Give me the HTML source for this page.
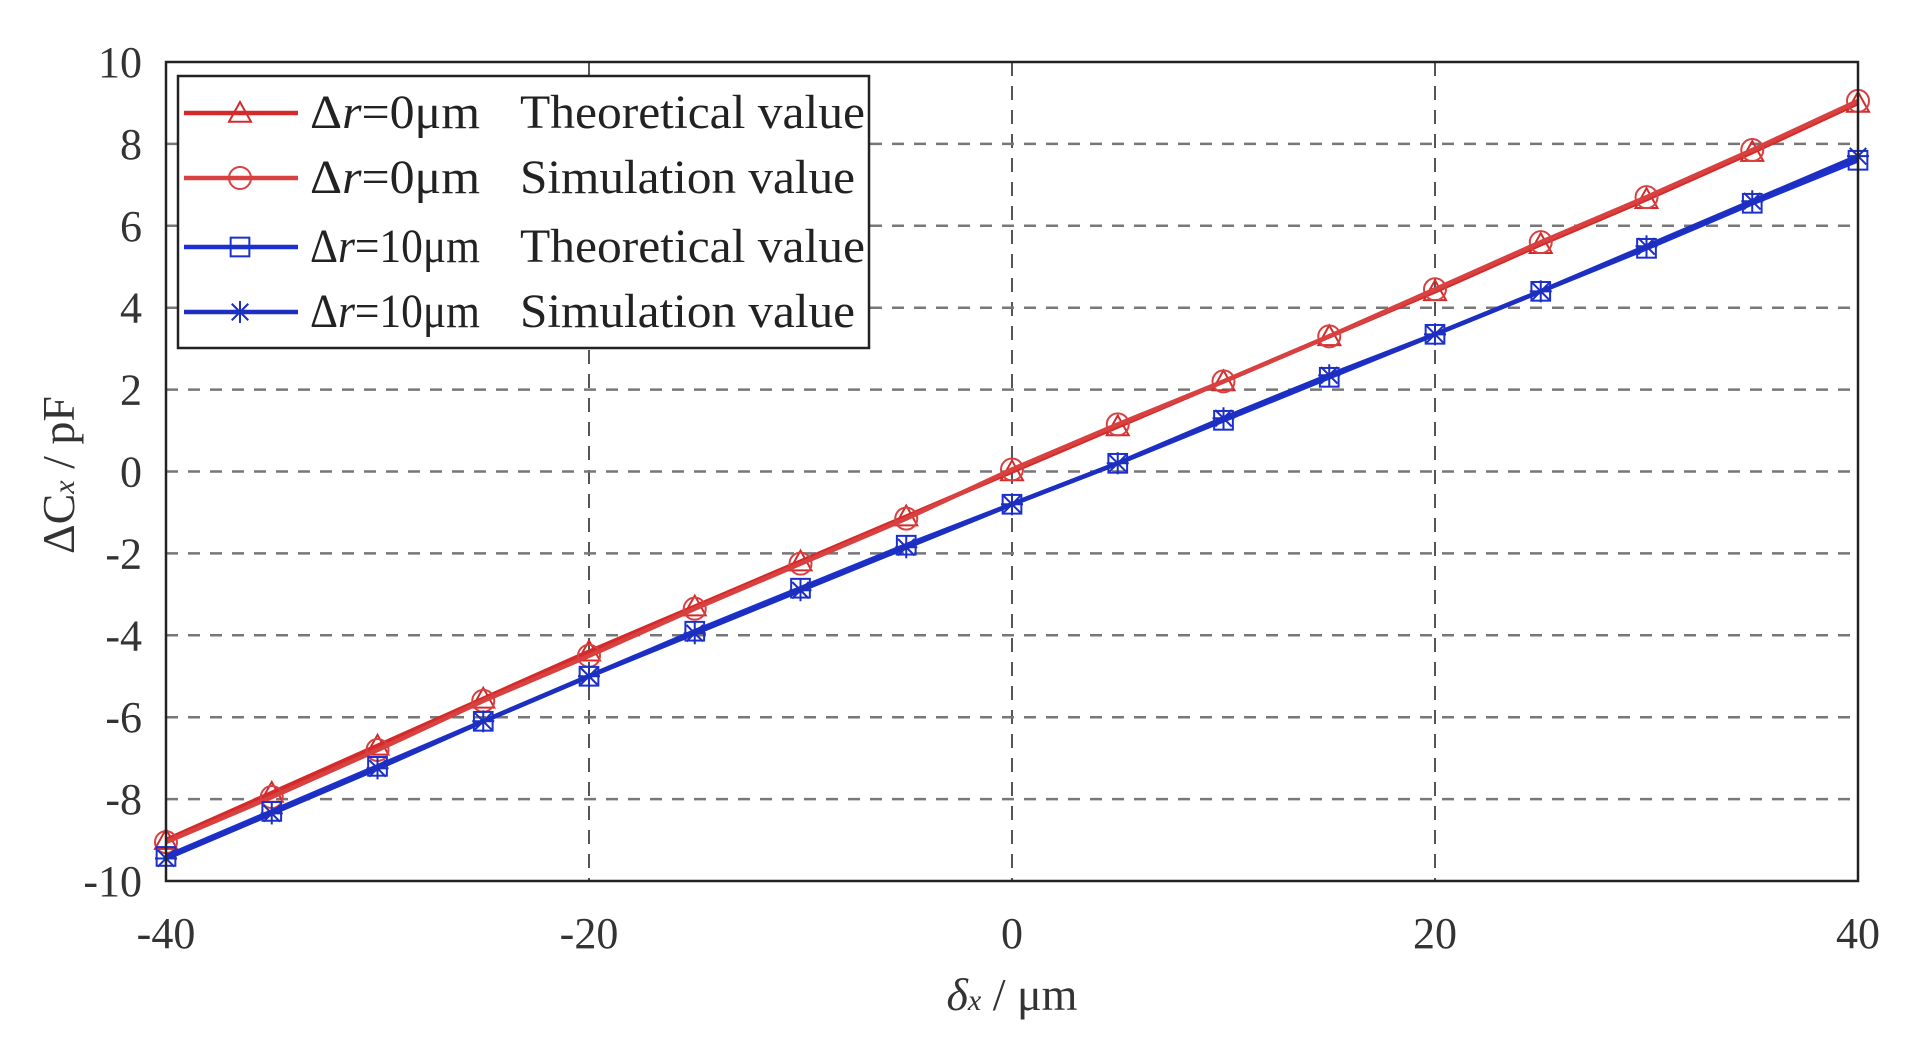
<!DOCTYPE html>
<html><head><meta charset="utf-8"><style>
html,body{margin:0;padding:0;background:#fff;}
svg{display:block;font-family:"Liberation Serif",serif;}
</style></head><body>
<svg id="chart" width="1912" height="1046" viewBox="0 0 1912 1046" xmlns="http://www.w3.org/2000/svg">
<g id="grid"></g>
<g id="series"></g>
<rect x="166" y="62" width="1692" height="819" fill="none" stroke="#222" stroke-width="2.5"/>
<g id="ticks"></g>
<text x="1012" y="1010" font-size="46" text-anchor="middle" fill="#333"><tspan font-style="italic">δ</tspan><tspan font-size="30" font-style="italic">x</tspan> / μm</text>
<text transform="translate(74,475) rotate(-90)" font-size="46" text-anchor="middle" fill="#333">ΔC<tspan font-size="30" font-style="italic">x</tspan> / pF</text>
<g id="legend">
<rect x="178" y="76" width="691" height="272" fill="#fff" stroke="#222" stroke-width="2.5"/>
</g>
</svg>
<script>
const xValues = [-40,-35,-30,-25,-20,-15,-10,-5,0,5,10,15,20,25,30,35,40];
const red0Theory = [-9,-7.85,-6.7,-5.55,-4.4,-3.3,-2.2,-1.1,0,1.1,2.2,3.3,4.4,5.55,6.65,7.8,9];
const red0Sim = [-9.05,-7.95,-6.8,-5.6,-4.5,-3.35,-2.25,-1.15,0.05,1.15,2.2,3.3,4.45,5.6,6.7,7.85,9.05];
const blue10Theory = [-9.4,-8.3,-7.2,-6.1,-5.0,-3.9,-2.85,-1.8,-0.8,0.2,1.25,2.3,3.35,4.4,5.45,6.55,7.6];
const blue10Sim = [-9.45,-8.35,-7.25,-6.1,-5.0,-3.95,-2.9,-1.85,-0.8,0.2,1.3,2.35,3.35,4.4,5.5,6.6,7.7];
const xTicks = [-40,-20,0,20,40];
const yTicks = [-10,-8,-6,-4,-2,0,2,4,6,8,10];
const legendLabels = [["=0μm","Theoretical value"],["=0μm","Simulation value"],["=10μm","Theoretical value"],["=10μm","Simulation value"]];

const NS="http://www.w3.org/2000/svg";
const L=166,R=1858,T=62,B=881;
const sx=v=>L+(v+40)/80*(R-L);
const sy=v=>B-(v+10)/20*(B-T);
function mk(tag,attrs,parent){const e=document.createElementNS(NS,tag);for(const k in attrs)e.setAttribute(k,attrs[k]);parent.appendChild(e);return e;}
const grid=document.getElementById('grid'),ticks=document.getElementById('ticks'),series=document.getElementById('series'),legend=document.getElementById('legend');
xTicks.forEach(v=>{
  if(v>-40&&v<40){const g=mk('line',{x1:sx(v),x2:sx(v),y1:T,y2:B,stroke:'#555','stroke-width':2,'stroke-dasharray':'14 10'},grid);
  
  }
  const t=mk('text',{x:sx(v),y:948,'font-size':44,'text-anchor':'middle',fill:'#333'},ticks);t.textContent=v;
  
  
});
yTicks.forEach(v=>{
  if(v>-10&&v<10){const g=mk('line',{x1:L,x2:R,y1:sy(v),y2:sy(v),stroke:'#777','stroke-width':2.5,'stroke-dasharray':'12 10'},grid);
  
  }
  const t=mk('text',{x:142,y:sy(v)+15,'font-size':44,'text-anchor':'end',fill:'#333'},ticks);t.textContent=v;
  
  
});
function marker(type,x,y,color,parent){
  const g=mk('g',{stroke:color,'stroke-width':2,fill:'none'},parent);
  const s=11;
  if(type==='tri')mk('polygon',{points:`${x},${y-s} ${x-s},${y+s*0.8} ${x+s},${y+s*0.8}`},g);
  if(type==='circ')mk('circle',{cx:x,cy:y,r:s},g);
  if(type==='sq')mk('rect',{x:x-s*0.85,y:y-s*0.85,width:s*1.7,height:s*1.7},g);
  if(type==='star'){mk('line',{x1:x-s,y1:y,x2:x+s,y2:y},g);mk('line',{x1:x,y1:y-s,x2:x,y2:y+s},g);mk('line',{x1:x-s*0.75,y1:y-s*0.75,x2:x+s*0.75,y2:y+s*0.75},g);mk('line',{x1:x-s*0.75,y1:y+s*0.75,x2:x+s*0.75,y2:y-s*0.75},g);}
  return g;
}
const defs=[[red0Theory,'#d42a2a','tri','series-r0-theoretical'],[red0Sim,'#d94040','circ','series-r0-simulation'],[blue10Theory,'#1c2fd0','sq','series-r10-theoretical'],[blue10Sim,'#1c2fc0','star','series-r10-simulation']];
defs.forEach(([vals,col,m,name])=>{
  const g=mk('g',{},series);
  
  
  const p=mk('polyline',{points:vals.map((v,i)=>sx(xValues[i])+','+sy(v)).join(' '),fill:'none',stroke:col,'stroke-width':4.5},g);
  
  
  vals.forEach((v,i)=>{const mm=marker(m,sx(xValues[i]),sy(v),col,g);
    
    });
});
const ly=[113,178,247,312];
legendLabels.forEach((lab,i)=>{
  const [,col,m]=defs[i];
  const g=mk('g',{},legend);
  
  
  mk('line',{x1:184,x2:298,y1:ly[i],y2:ly[i],stroke:col,'stroke-width':4.5},g);
  marker(m,240,ly[i],col,g);
  const w1 = lab[0].length>5 ? 195 : 170;
  const t1=mk('text',{x:310,y:ly[i]+15,'font-size':48,fill:'#222',textLength:w1,lengthAdjust:'spacingAndGlyphs'},g);
  t1.innerHTML='Δ<tspan font-style="italic">r</tspan>'+lab[0];
  const w2 = lab[1].startsWith('T') ? 345 : 335;
  const t2=mk('text',{x:520,y:ly[i]+15,'font-size':48,fill:'#222',textLength:w2,lengthAdjust:'spacingAndGlyphs'},g);t2.textContent=lab[1];
});
</script>
</body></html>
